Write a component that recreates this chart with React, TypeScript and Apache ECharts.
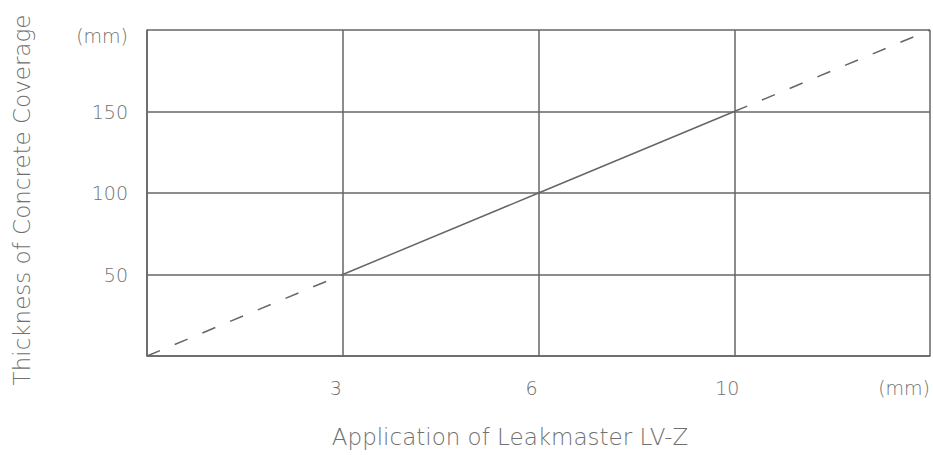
import React, { useEffect, useRef } from "react";
import * as echarts from "echarts";

const xTickLabels = ["", "3", "6", "10", "(mm)"];
const yTickLabels = ["", "50", "100", "150", "(mm)"];
const xIndex = [0, 1, 2, 3, 4];
const thickness = [0, 50, 100, 150, 200];
const solidRange = [1, 3];
const xTitle = "Application of Leakmaster LV-Z";
const yTitle = "Thickness of Concrete Coverage";

const FONT = "'DejaVu Sans', sans-serif";
const LINE = "#666666";
const TEXT = "#707070";

export default function App() {
  const ref = useRef<HTMLDivElement>(null);
  useEffect(() => {
    if (!ref.current) return;
    const chart = echarts.init(ref.current, undefined, { renderer: "svg" });
    const pts = xIndex.map((x, i) => [x, thickness[i]]);
    const solid = pts.filter((p) => p[0] >= solidRange[0] && p[0] <= solidRange[1]);
    const dashLow = pts.filter((p) => p[0] <= solidRange[0]);
    const dashHigh = pts.filter((p) => p[0] >= solidRange[1]);
    const lineBase = {
      type: "line" as const,
      symbol: "none",
      silent: true,
    };
    const labelStyle = { color: TEXT, fontFamily: FONT, fontWeight: 200, fontSize: 19 };
    chart.setOption({
      animation: false,
      grid: { left: 147, right: 2, top: 30, bottom: 99 },
      xAxis: {
        type: "value",
        min: 0,
        max: 4,
        interval: 1,
        axisLine: { show: true, lineStyle: { color: LINE, width: 1.5 } },
        axisTick: { show: false },
        splitLine: { show: true, lineStyle: { color: LINE, width: 1.5 } },
        axisLabel: {
          ...labelStyle,
          margin: 22,
          alignMaxLabel: "right",
          formatter: (v: number) => {
            const s = xTickLabels[Math.round(v)] ?? "";
            return v === 4 ? s : "{s|" + s + "}";
          },
          rich: { s: { ...labelStyle, padding: [0, 14, 0, 0] } },
        },
      },
      yAxis: {
        type: "value",
        min: 0,
        max: 200,
        interval: 50,
        axisLine: { show: true, lineStyle: { color: LINE, width: 1.5 } },
        axisTick: { show: false },
        splitLine: { show: true, lineStyle: { color: LINE, width: 1.5 } },
        axisLabel: {
          ...labelStyle,
          margin: 19,
          formatter: (v: number) => {
            const s = yTickLabels[Math.round(v / 50)] ?? "";
            return v === 200 ? "{top|" + s + "}" : s;
          },
          rich: { top: { ...labelStyle, padding: [12, 0, 0, 0] } },
        },
      },
      series: [
        { ...lineBase, data: solid, lineStyle: { color: LINE, width: 1.5 } },
        { ...lineBase, data: dashLow, lineStyle: { color: LINE, width: 1.5, type: [14, 16] } },
        { ...lineBase, data: dashHigh, lineStyle: { color: LINE, width: 1.5, type: [14, 16] } },
      ],
      graphic: [
        {
          type: "text",
          x: 510,
          y: 437,
          style: {
            text: xTitle,
            fill: TEXT,
            font: `200 23px ${FONT}`,
            align: "center",
            verticalAlign: "middle",
          },
        },
        {
          type: "text",
          x: 22,
          y: 200,
          rotation: Math.PI / 2,
          style: {
            text: yTitle,
            fill: TEXT,
            font: `200 23px ${FONT}`,
            align: "center",
            verticalAlign: "middle",
          },
        },
      ],
    });
    return () => chart.dispose();
  }, []);
  return <div ref={ref} style={{ width: 933, height: 455, position: "absolute", left: 0, top: 0 }} />;
}
